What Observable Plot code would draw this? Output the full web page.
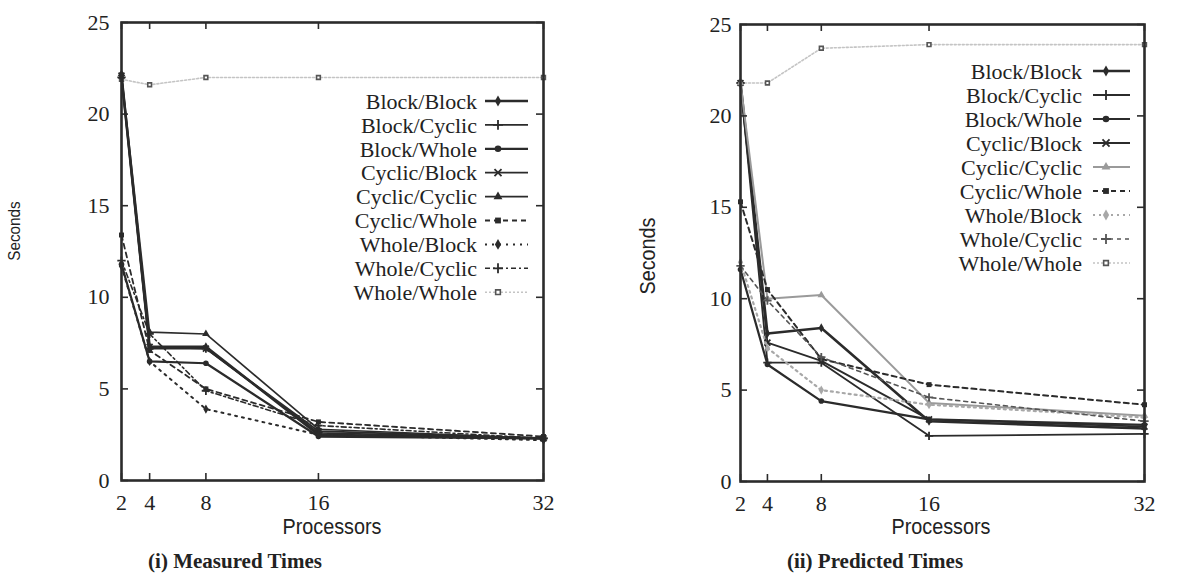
<!DOCTYPE html>
<html><head><meta charset="utf-8">
<script src="https://cdn.jsdelivr.net/npm/d3@7"></script>
<script src="https://cdn.jsdelivr.net/npm/@observablehq/plot@0.6"></script>
<style>
body{margin:0;background:#fff;}
#root{position:relative;width:1185px;height:577px;overflow:hidden;font-family:"Liberation Serif","Times New Roman",serif;color:#222;background:#fff;}
#root svg, #root svg text{font-family:"Liberation Serif","Times New Roman",serif !important;}
.abs{position:absolute;white-space:nowrap;}
.axlab{font-family:"Liberation Sans",Arimo,sans-serif;color:#222;}
.cap{font-family:"Liberation Serif",serif;font-weight:bold;font-size:21px;color:#222;}
</style></head><body><div id="root"></div>
<script>
// ---------- data ----------
const processors = [2, 4, 8, 16, 32];
const yTicks = [0, 5, 10, 15, 20, 25];
const seriesNames = ["Block/Block","Block/Cyclic","Block/Whole","Cyclic/Block","Cyclic/Cyclic","Cyclic/Whole","Whole/Block","Whole/Cyclic","Whole/Whole"];

// (i) Measured times (seconds)
const measuredBlockBlock   = [22.1, 7.3, 7.3, 2.5, 2.3];
const measuredBlockCyclic  = [22.0, 7.2, 7.2, 2.6, 2.3];
const measuredBlockWhole   = [11.8, 6.5, 6.4, 2.4, 2.3];
const measuredCyclicBlock  = [22.1, 7.3, 7.2, 2.7, 2.3];
const measuredCyclicCyclic = [22.2, 8.1, 8.0, 2.8, 2.3];
const measuredCyclicWhole  = [13.4, 7.1, 5.0, 3.2, 2.4];
const measuredWholeBlock   = [11.7, 6.5, 3.9, 2.5, 2.2];
const measuredWholeCyclic  = [12.0, 8.0, 4.9, 3.0, 2.3];
const measuredWholeWhole   = [21.9, 21.6, 22.0, 22.0, 22.0];

// (ii) Predicted times (seconds)
const predictedBlockBlock   = [21.8, 8.1, 8.4, 3.3, 2.9];
const predictedBlockCyclic  = [21.8, 6.5, 6.5, 2.5, 2.6];
const predictedBlockWhole   = [11.6, 6.4, 4.4, 3.4, 3.1];
const predictedCyclicBlock  = [21.8, 7.6, 6.6, 3.4, 3.0];
const predictedCyclicCyclic = [21.8, 10.0, 10.2, 4.3, 3.6];
const predictedCyclicWhole  = [15.3, 10.5, 6.7, 5.3, 4.2];
const predictedWholeBlock   = [12.0, 7.3, 5.0, 4.2, 3.5];
const predictedWholeCyclic  = [11.8, 9.9, 6.8, 4.6, 3.3];
const predictedWholeWhole   = [21.8, 21.8, 23.7, 23.9, 23.9];

const measured = [measuredBlockBlock, measuredBlockCyclic, measuredBlockWhole, measuredCyclicBlock, measuredCyclicCyclic, measuredCyclicWhole, measuredWholeBlock, measuredWholeCyclic, measuredWholeWhole];
const predicted = [predictedBlockBlock, predictedBlockCyclic, predictedBlockWhole, predictedCyclicBlock, predictedCyclicCyclic, predictedCyclicWhole, predictedWholeBlock, predictedWholeCyclic, predictedWholeWhole];

// ---------- styles ----------
const DARK = "#2b2b2b";
const leftStyles = [
  {color: DARK, width: 2.6, dash: null, symbol: "diamond", filled: true},
  {color: DARK, width: 1.8, dash: null, symbol: "plus", filled: false},
  {color: DARK, width: 2.2, dash: null, symbol: "circle", filled: true},
  {color: DARK, width: 1.8, dash: null, symbol: "times", filled: false},
  {color: DARK, width: 1.6, dash: null, symbol: "triangle", filled: true},
  {color: DARK, width: 1.8, dash: "5,4", symbol: "square", filled: true},
  {color: DARK, width: 2.0, dash: "2,5", symbol: "diamond", filled: true},
  {color: DARK, width: 1.6, dash: "5,3,2,3", symbol: "plus", filled: false},
  {color: "#c4c4c4", width: 1.6, dash: "2,2", symbol: "square2", filled: false}
];
const rightStyles = [
  {color: DARK, width: 2.6, dash: null, symbol: "diamond", filled: true},
  {color: DARK, width: 1.8, dash: null, symbol: "plus", filled: false},
  {color: DARK, width: 2.2, dash: null, symbol: "circle", filled: true},
  {color: DARK, width: 1.8, dash: null, symbol: "times", filled: false},
  {color: "#9a9a9a", width: 2.0, dash: null, symbol: "triangle", filled: true},
  {color: DARK, width: 2.0, dash: "5,4", symbol: "square", filled: true},
  {color: "#a8a8a8", width: 2.2, dash: "2,4", symbol: "diamond", filled: true},
  {color: "#555", width: 1.6, dash: "4,4", symbol: "plus", filled: false},
  {color: "#c4c4c4", width: 1.6, dash: "2,2", symbol: "square2", filled: false}
];

const root = document.getElementById("root");

function panel(vals, styles, dims, drawOrder) {
  const rows = [];
  seriesNames.forEach((s, i) => vals[i].forEach((t, j) => rows.push({series: s, p: processors[j], t})));
  const innerW = dims.width - dims.marginLeft - dims.marginRight;
  const innerH = dims.height - dims.marginTop - dims.marginBottom;
  const marks = [];
  drawOrder.forEach(i => {
    const st = styles[i];
    const d = rows.filter(r => r.series === seriesNames[i]);
    marks.push(Plot.line(d, {x: "p", y: "t", stroke: st.color, strokeWidth: st.width, strokeDasharray: st.dash}));
    marks.push(Plot.dot(d, {x: "p", y: "t", symbol: () => st.symbol, r: st.symbol === "square2" ? 2.4 : 2.8,
      fill: st.filled ? st.color : (st.symbol === "square2" ? "white" : "none"),
      stroke: st.filled ? "none" : (st.symbol === "square2" ? "#555" : st.color),
      strokeWidth: st.symbol === "square2" ? 1.6 : 1.8}));
  });
  const tk = {stroke: DARK, strokeWidth: 1.6};
  marks.push(
    Plot.tickX(processors, {x: d => d, insetTop: innerH - 7, ...tk}),
    Plot.tickX(processors, {x: d => d, insetBottom: innerH - 7, ...tk}),
    Plot.tickY(yTicks, {y: d => d, insetRight: innerW - 7, ...tk}),
    Plot.tickY(yTicks, {y: d => d, insetLeft: innerW - 7, ...tk}),
    Plot.frame({stroke: DARK, strokeWidth: 2.6}),
    Plot.axisX({ticks: processors, tickSize: 0, tickPadding: 14, label: null, tickFormat: d => String(d), fontFamily: "Liberation Serif"}),
    Plot.axisY({ticks: yTicks, tickSize: 0, tickPadding: dims.yPad, label: null, tickFormat: d => String(d), fontFamily: "Liberation Serif"})
  );
  const svg = Plot.plot({
    width: dims.width, height: dims.height,
    marginLeft: dims.marginLeft, marginRight: dims.marginRight,
    marginTop: dims.marginTop, marginBottom: dims.marginBottom,
    style: {fontFamily: "Liberation Serif, serif", fontSize: "22px", color: "#222", background: "transparent", overflow: "visible"},
    x: {type: "linear", domain: [2, 32], axis: null},
    y: {type: "linear", domain: [0, 25], axis: null},
    marks
  });
  svg.style.position = "absolute";
  svg.style.left = dims.left + "px";
  svg.style.top = "0px";
  root.appendChild(svg);
}

const order = [8, 0, 1, 2, 3, 4, 5, 6, 7];
panel(measured, leftStyles, {left: 0, width: 600, height: 515, marginLeft: 121, marginRight: 57, marginTop: 22, marginBottom: 35, yPad: 12}, order);
panel(predicted, rightStyles, {left: 600, width: 585, height: 515, marginLeft: 140, marginRight: 41, marginTop: 24, marginBottom: 34, yPad: 9}, order);

// ---------- legends ----------
const symMap = {diamond: d3.symbolDiamond, plus: d3.symbolPlus, circle: d3.symbolCircle, times: d3.symbolTimes, triangle: d3.symbolTriangle, square: d3.symbolSquare, square2: d3.symbolSquare2};
function legend(styles, cfg) {
  const svg = d3.select(root).append("svg").attr("class", "abs")
    .style("left", "0px").style("top", "0px").attr("width", 1185).attr("height", 577);
  seriesNames.forEach((s, i) => {
    const st = styles[i];
    const y = cfg.y0 + i * cfg.dy;
    svg.append("text").attr("x", cfg.textRight).attr("y", y).attr("dy", "0.35em")
      .attr("text-anchor", "end")
      .attr("font-size", 22).attr("fill", "#222").text(s);
    svg.append("line").attr("x1", cfg.x1).attr("x2", cfg.x2).attr("y1", y).attr("y2", y)
      .attr("stroke", st.color).attr("stroke-width", st.width).attr("stroke-dasharray", st.dash);
    const sz = st.symbol === "square2" ? 28 : 34;
    svg.append("path").attr("transform", `translate(${cfg.x1 + 13},${y})`)
      .attr("d", d3.symbol(symMap[st.symbol], sz)())
      .attr("fill", st.filled ? st.color : (st.symbol === "square2" ? "white" : "none"))
      .attr("stroke", st.filled ? "none" : (st.symbol === "square2" ? "#555" : st.color))
      .attr("stroke-width", st.symbol === "square2" ? 1.6 : 1.8);
  });
}
legend(leftStyles, {y0: 101, dy: 23.9, textRight: 477, x1: 485, x2: 528});
legend(rightStyles, {y0: 71, dy: 24, textRight: 1082, x1: 1093, x2: 1130});

// ---------- labels ----------
function label(text, cls, css) {
  const d = document.createElement("div");
  d.className = "abs " + cls;
  d.textContent = text;
  Object.assign(d.style, css);
  root.appendChild(d);
  return d;
}
label("Processors", "axlab", {left: "332px", top: "527px", fontSize: "22px", transform: "translate(-50%,-50%) scaleX(0.9)"});
label("Processors", "axlab", {left: "941px", top: "527px", fontSize: "22px", transform: "translate(-50%,-50%) scaleX(0.9)"});
label("Seconds", "axlab", {left: "15px", top: "231px", fontSize: "17px", transform: "translate(-50%,-50%) rotate(-90deg) scaleX(0.9)"});
label("Seconds", "axlab", {left: "648px", top: "256px", fontSize: "22px", transform: "translate(-50%,-50%) rotate(-90deg) scaleX(0.9)"});
label("(i) Measured Times", "cap", {left: "235px", top: "561px", transform: "translate(-50%,-50%)"});
label("(ii) Predicted Times", "cap", {left: "875px", top: "561px", transform: "translate(-50%,-50%)"});
</script></body></html>
